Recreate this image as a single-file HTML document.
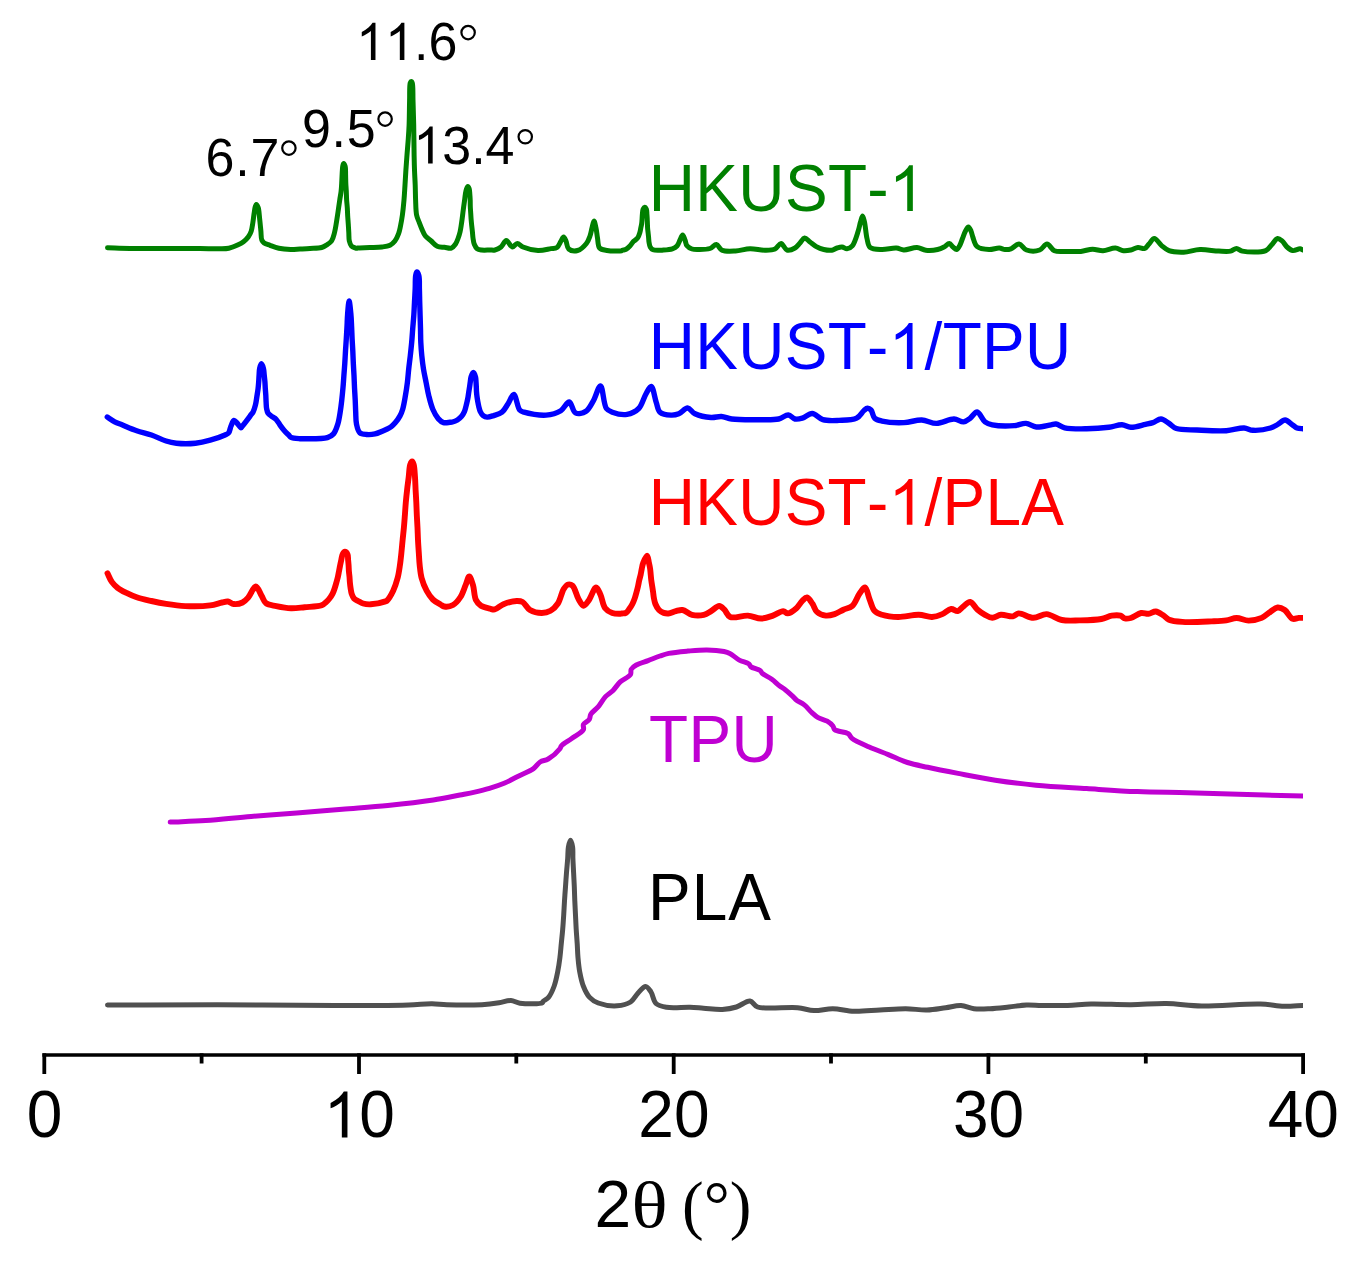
<!DOCTYPE html>
<html><head><meta charset="utf-8"><style>
html,body{margin:0;padding:0;background:#fff;}
body{width:1361px;height:1270px;overflow:hidden;}
svg{display:block;}
text{font-kerning:none;}
.s{font-family:"Liberation Sans",sans-serif;}
.r{font-family:"Liberation Serif",serif;}
</style></head><body>
<svg width="1361" height="1270" viewBox="0 0 1361 1270">
<defs><clipPath id="c"><rect x="0" y="0" width="1302.9" height="1270"/></clipPath></defs>
<rect width="1361" height="1270" fill="#fff"/>
<g clip-path="url(#c)">
<path d="M107.50,1005.10C144.20,1004.97 180.31,1004.62 217.60,1004.70C256.11,1004.78 300.41,1005.63 335.00,1005.60C362.38,1005.57 390.91,1005.40 408.60,1004.90C418.58,1004.62 425.09,1003.73 432.00,1003.80C437.50,1003.86 440.81,1004.61 446.80,1004.80C456.03,1005.10 472.39,1005.25 482.00,1004.70C488.70,1004.32 493.85,1003.58 499.00,1002.80C503.33,1002.14 507.23,1000.32 510.90,1000.50C514.13,1000.66 516.18,1002.69 519.90,1003.20C525.66,1003.99 540.51,1004.19 542.40,1002.80C542.85,1002.47 542.47,1002.06 542.80,1001.60C543.59,1000.52 546.81,999.41 548.50,997.40C550.77,994.70 552.69,990.10 554.20,986.00C555.82,981.61 556.75,976.55 557.70,971.80C558.64,967.11 559.30,962.42 559.90,957.70C560.50,952.98 560.83,948.23 561.30,943.50C561.77,938.77 562.30,934.04 562.70,929.30C563.10,924.57 563.40,919.83 563.70,915.10C564.00,910.37 564.20,905.63 564.50,900.90C564.80,896.17 565.17,891.42 565.50,886.70C565.83,881.99 566.13,877.31 566.50,872.60C566.87,867.87 567.37,862.88 567.70,858.40C567.99,854.39 567.80,850.27 568.40,847.00C568.87,844.44 569.80,840.30 570.50,840.30C571.20,840.30 572.17,844.44 572.60,847.00C573.14,850.27 572.75,854.39 572.90,858.40C573.07,862.87 573.37,867.88 573.60,872.60C573.83,877.31 574.10,881.99 574.30,886.70C574.50,891.42 574.60,896.17 574.80,900.90C575.00,905.63 575.27,910.37 575.50,915.10C575.73,919.83 575.92,924.57 576.20,929.30C576.48,934.03 576.90,938.77 577.20,943.50C577.50,948.23 577.58,952.98 578.00,957.70C578.42,962.41 578.83,967.12 579.70,971.80C580.59,976.55 581.57,981.63 583.30,986.00C584.93,990.12 586.90,994.50 589.60,997.40C592.00,999.98 594.59,1001.63 598.20,1003.00C603.14,1004.87 611.45,1006.17 617.20,1005.80C622.09,1005.48 627.04,1004.31 630.60,1002.00C633.86,999.88 635.49,995.66 638.10,993.00C640.50,990.55 643.36,986.43 645.60,986.50C647.52,986.56 649.25,989.36 650.80,991.60C652.87,994.60 653.21,1000.88 656.00,1003.50C658.59,1005.93 662.22,1006.55 666.50,1007.30C672.70,1008.39 683.25,1007.08 690.00,1007.30C695.12,1007.47 698.63,1007.88 703.50,1008.20C709.25,1008.58 716.50,1009.70 722.30,1009.40C727.35,1009.13 731.83,1008.38 736.40,1007.00C741.06,1005.60 746.24,1000.52 750.00,1001.00C753.04,1001.39 753.74,1005.62 757.60,1007.00C765.45,1009.80 787.22,1006.70 797.60,1007.70C804.30,1008.35 808.33,1010.39 814.00,1010.60C820.04,1010.82 826.35,1008.63 832.80,1008.70C839.66,1008.77 846.57,1011.03 854.00,1011.30C862.19,1011.59 871.28,1010.43 879.90,1010.00C888.51,1009.57 897.52,1008.66 905.70,1008.70C913.11,1008.74 920.05,1010.21 926.90,1010.00C933.36,1009.80 939.76,1008.49 945.70,1007.70C951.07,1006.99 956.14,1005.26 961.00,1005.50C965.51,1005.73 969.33,1008.14 973.90,1008.70C978.93,1009.32 984.43,1008.95 990.00,1008.70C996.03,1008.43 1002.64,1007.63 1008.80,1007.00C1014.77,1006.39 1020.73,1005.25 1026.40,1005.00C1031.67,1004.77 1035.93,1005.32 1041.70,1005.40C1049.20,1005.50 1059.19,1005.65 1067.60,1005.40C1075.60,1005.16 1082.16,1004.19 1091.00,1004.00C1102.55,1003.76 1118.08,1004.81 1131.00,1004.70C1143.14,1004.60 1154.54,1003.30 1166.30,1003.50C1178.07,1003.70 1188.33,1005.66 1201.60,1005.90C1218.71,1006.20 1245.23,1003.50 1260.40,1004.00C1270.01,1004.31 1276.50,1006.12 1283.90,1006.30C1290.51,1006.46 1299.00,1005.49 1302.70,1005.40C1304.25,1005.36 1304.90,1005.40 1306.00,1005.40" fill="none" stroke="#505050" stroke-width="5.0" stroke-linejoin="round" stroke-linecap="round"/>
<path d="M170.20,822.10C182.00,821.57 193.07,821.35 205.60,820.50C219.83,819.54 235.92,817.65 251.10,816.40C266.29,815.15 281.51,814.20 296.70,813.00C311.88,811.80 327.02,810.45 342.20,809.20C357.39,807.95 372.62,807.03 387.80,805.50C402.99,803.97 420.17,802.02 433.30,800.00C443.41,798.44 452.42,796.46 460.00,795.00C465.63,793.92 469.81,793.20 474.70,792.10C479.61,791.00 484.53,789.85 489.40,788.40C494.33,786.93 499.27,785.34 504.10,783.30C509.07,781.20 513.90,778.35 518.80,775.90C523.70,773.45 529.73,771.31 533.50,768.60C536.34,766.56 537.59,763.61 540.10,762.00C542.51,760.45 545.41,760.66 548.20,759.00C551.94,756.76 557.93,751.23 559.90,748.70C560.80,747.54 560.48,746.86 561.40,745.80C563.21,743.72 568.18,741.09 571.70,738.50C575.50,735.71 581.95,732.52 583.40,729.60C584.25,727.88 582.69,726.05 583.40,724.50C584.28,722.58 588.08,721.31 589.30,719.40C590.32,717.81 589.77,715.95 590.80,714.20C592.22,711.79 595.77,709.65 598.10,706.90C600.69,703.85 602.84,699.42 605.50,696.60C607.79,694.18 610.46,692.99 612.80,690.70C615.39,688.16 617.34,684.55 620.20,681.90C623.20,679.12 628.94,677.09 630.50,674.50C631.49,672.85 630.38,670.91 631.20,669.40C632.14,667.68 634.10,666.30 636.30,665.00C639.30,663.22 644.16,662.09 648.10,660.60C652.06,659.10 656.32,657.26 660.00,656.00C663.10,654.94 665.20,654.13 668.70,653.40C673.79,652.34 681.42,651.68 687.80,651.10C694.16,650.52 700.71,649.81 706.90,649.90C712.76,649.99 719.84,650.64 724.00,651.50C726.48,652.02 727.71,652.35 729.80,653.40C732.68,654.85 736.02,658.32 739.30,660.10C742.40,661.77 747.03,662.40 748.90,663.90C749.97,664.76 749.73,665.83 750.80,666.70C752.66,668.21 758.41,669.10 760.30,670.60C761.39,671.47 761.24,672.42 762.30,673.40C764.20,675.17 768.89,677.07 771.80,679.20C774.57,681.22 776.98,683.95 779.40,685.80C781.41,687.34 783.19,688.15 785.20,689.70C787.62,691.57 790.73,694.45 792.80,696.40C794.31,697.82 795.02,698.96 796.60,700.20C798.64,701.81 801.85,702.96 804.30,704.90C806.98,707.02 809.48,710.39 811.90,712.60C813.92,714.45 815.41,716.04 817.70,717.40C820.38,718.99 824.54,719.61 827.20,721.20C829.47,722.56 831.60,724.36 832.90,726.00C833.88,727.24 833.51,728.74 834.80,729.80C837.13,731.73 845.27,731.64 848.20,733.60C850.14,734.90 850.02,736.79 852.00,738.40C855.50,741.25 863.26,744.34 869.20,747.00C875.34,749.75 881.93,752.02 888.30,754.60C894.70,757.19 900.93,760.38 907.50,762.50C914.07,764.62 920.27,765.67 927.70,767.30C936.79,769.29 947.45,771.36 958.10,773.40C969.87,775.66 982.60,778.26 995.30,780.20C1008.51,782.22 1021.60,783.84 1035.90,785.20C1051.84,786.72 1069.70,787.53 1086.60,788.60C1103.50,789.67 1120.39,790.92 1137.30,791.60C1154.19,792.28 1171.11,792.25 1188.00,792.70C1204.88,793.15 1220.72,793.78 1238.60,794.30C1258.75,794.88 1295.18,795.90 1302.90,796.00C1304.59,796.02 1304.97,796.00 1306.00,796.00" fill="none" stroke="#bf00d2" stroke-width="5.0" stroke-linejoin="round" stroke-linecap="round"/>
<path d="M107.50,573.30C108.93,576.17 110.03,579.42 111.80,581.90C113.44,584.20 115.32,586.04 117.60,587.80C120.14,589.76 123.39,591.34 126.50,592.90C129.74,594.52 132.93,596.02 136.70,597.30C141.10,598.79 146.49,599.90 151.40,601.00C156.29,602.10 160.86,603.08 166.10,603.90C172.03,604.83 178.39,605.80 185.20,606.10C192.96,606.44 203.45,606.31 210.20,605.40C214.90,604.76 218.75,603.18 222.00,602.50C224.26,602.03 225.89,601.28 227.80,601.50C229.79,601.73 231.50,603.74 233.70,604.00C236.30,604.30 240.00,603.69 242.50,602.50C244.85,601.38 246.46,599.49 248.40,597.30C250.91,594.47 253.52,586.45 255.80,586.50C257.89,586.54 259.81,592.87 261.60,595.80C263.18,598.40 263.77,601.49 266.00,603.20C268.49,605.11 272.53,605.29 276.30,606.10C280.74,607.05 286.18,608.13 291.00,608.30C295.64,608.46 299.89,607.68 304.70,607.20C310.07,606.67 318.10,606.57 321.70,605.20C323.62,604.47 324.46,603.44 325.70,602.40C326.93,601.37 328.03,600.31 329.10,599.00C330.31,597.52 331.57,595.70 332.50,593.90C333.43,592.10 334.05,590.11 334.70,588.20C335.34,586.31 335.87,584.40 336.40,582.50C336.93,580.60 337.46,578.70 337.90,576.80C338.33,574.93 338.63,573.08 339.00,571.20C339.37,569.31 339.72,567.40 340.10,565.50C340.48,563.60 340.87,561.69 341.30,559.80C341.73,557.92 341.94,555.61 342.70,554.20C343.27,553.14 344.12,551.83 344.90,551.80C345.71,551.77 346.95,553.10 347.50,554.20C348.20,555.59 347.92,557.92 348.10,559.80C348.28,561.69 348.47,563.60 348.60,565.50C348.73,567.40 348.75,569.31 348.90,571.20C349.05,573.08 349.33,574.92 349.50,576.80C349.67,578.69 349.72,580.60 349.90,582.50C350.08,584.40 350.30,586.31 350.60,588.20C350.90,590.11 351.10,592.15 351.70,593.90C352.26,595.53 352.89,597.19 354.00,598.40C355.14,599.64 356.97,600.34 358.50,601.20C360.01,602.04 361.32,602.98 363.10,603.50C365.29,604.14 367.83,604.44 370.80,604.30C374.93,604.11 383.21,602.18 385.50,601.40C386.24,601.15 386.35,601.19 386.90,600.70C388.40,599.34 391.45,594.33 393.20,590.70C395.06,586.84 396.48,582.35 397.60,578.10C398.70,573.92 399.27,569.63 399.90,565.40C400.53,561.20 400.95,557.00 401.40,552.80C401.85,548.60 402.18,544.40 402.60,540.20C403.02,536.00 403.52,531.80 403.90,527.60C404.28,523.40 404.58,519.20 404.90,515.00C405.22,510.80 405.43,506.60 405.80,502.40C406.17,498.20 406.62,494.00 407.10,489.80C407.58,485.60 408.18,481.40 408.70,477.20C409.22,473.00 409.26,467.32 410.20,464.60C410.71,463.14 411.51,461.48 412.10,461.50C412.68,461.52 413.27,463.16 413.70,464.60C414.52,467.34 414.68,473.00 415.00,477.20C415.32,481.40 415.38,485.60 415.60,489.80C415.82,494.00 416.10,498.20 416.30,502.40C416.50,506.60 416.60,510.80 416.80,515.00C417.00,519.20 417.30,523.40 417.50,527.60C417.70,531.80 417.78,536.00 418.00,540.20C418.22,544.40 418.52,548.60 418.80,552.80C419.08,557.00 419.24,561.20 419.70,565.40C420.17,569.63 420.48,573.94 421.60,578.10C422.75,582.38 424.57,586.98 426.60,590.70C428.41,594.02 430.45,597.15 432.90,599.50C435.14,601.66 438.38,603.25 440.50,604.50C441.96,605.36 442.72,606.25 444.30,606.50C446.56,606.86 450.41,606.40 453.00,605.00C455.89,603.45 458.45,600.13 460.50,597.00C462.72,593.61 464.04,588.84 465.60,585.20C466.94,582.08 468.07,576.50 469.30,576.50C470.53,576.50 471.97,581.86 473.00,585.20C474.29,589.40 474.13,596.26 475.90,599.90C477.18,602.52 478.81,604.35 481.00,605.80C483.41,607.39 487.46,608.11 490.00,608.70C491.80,609.12 492.96,609.74 494.70,609.40C497.26,608.90 500.16,605.56 503.50,604.20C507.35,602.63 513.16,601.12 516.70,601.00C519.05,600.92 520.69,600.97 522.60,602.00C525.17,603.39 526.93,608.17 530.00,610.00C533.23,611.93 538.08,612.99 541.70,613.00C544.84,613.01 547.87,612.28 550.50,610.80C553.31,609.22 555.82,606.62 557.90,603.50C560.46,599.65 561.60,592.10 563.80,588.80C565.17,586.74 566.61,584.89 568.20,584.50C569.57,584.16 571.26,584.63 572.60,585.80C574.97,587.88 576.39,595.44 578.50,599.00C580.11,601.72 581.83,605.59 583.60,605.70C585.24,605.80 586.99,602.76 588.70,600.50C591.15,597.26 593.93,587.53 596.10,587.50C597.73,587.47 599.16,591.85 600.50,594.70C602.22,598.36 602.64,604.76 605.00,607.90C606.88,610.41 609.74,612.04 612.30,613.00C614.63,613.87 617.88,613.82 619.60,613.80C620.55,613.79 620.95,613.62 621.80,613.50C622.96,613.34 624.69,613.57 625.90,612.90C627.28,612.14 628.33,610.26 629.40,608.80C630.50,607.30 631.52,605.72 632.40,604.00C633.33,602.17 634.11,600.09 634.80,598.10C635.48,596.15 635.97,594.17 636.50,592.20C637.03,590.24 637.55,588.27 638.00,586.30C638.45,584.34 638.75,582.36 639.20,580.40C639.65,578.43 640.27,576.47 640.70,574.50C641.13,572.54 641.37,570.56 641.80,568.60C642.23,566.63 642.50,564.69 643.30,562.70C644.21,560.43 646.26,555.67 647.20,555.80C648.09,555.92 648.40,560.49 648.90,562.70C649.36,564.74 649.80,566.63 650.10,568.60C650.40,570.56 650.50,572.53 650.70,574.50C650.90,576.47 651.05,578.44 651.30,580.40C651.55,582.37 651.90,584.33 652.20,586.30C652.50,588.27 652.82,590.23 653.10,592.20C653.38,594.17 653.52,596.14 653.90,598.10C654.28,600.08 654.60,602.08 655.40,604.00C656.26,606.06 657.50,608.48 659.00,610.00C660.33,611.35 662.07,612.32 663.70,612.90C665.21,613.43 666.67,613.66 668.40,613.50C670.63,613.30 673.46,611.69 675.90,611.10C678.15,610.56 680.16,609.64 682.50,610.00C685.45,610.45 688.56,613.98 692.00,614.80C695.63,615.66 700.42,615.61 703.80,614.80C706.62,614.13 708.64,612.50 711.10,611.10C713.76,609.59 716.82,605.93 719.20,606.00C721.15,606.05 722.73,608.11 724.40,609.70C726.42,611.62 727.28,615.73 730.20,617.00C734.23,618.75 742.46,615.23 747.90,615.60C752.65,615.93 756.83,618.55 761.10,618.50C765.15,618.45 769.15,616.87 772.90,615.60C776.50,614.38 780.50,611.01 783.20,611.10C784.99,611.16 785.90,613.44 787.60,613.40C790.04,613.34 793.92,610.34 796.40,608.20C798.78,606.14 800.32,602.78 802.30,600.90C803.86,599.42 805.45,597.32 807.00,597.50C808.86,597.71 810.87,601.47 812.50,603.80C814.22,606.25 814.81,609.94 817.00,611.90C819.22,613.89 822.82,615.26 825.80,615.60C828.69,615.93 831.73,615.04 834.60,614.10C837.61,613.12 840.44,611.06 843.40,609.70C846.31,608.36 849.68,608.19 852.20,606.00C855.30,603.29 857.16,596.82 859.60,593.50C861.42,591.03 863.46,587.22 865.00,587.50C866.94,587.86 867.98,595.47 869.60,599.40C871.22,603.33 872.26,608.51 874.70,611.10C876.66,613.17 878.99,613.86 882.00,614.80C886.25,616.12 892.47,616.92 898.20,617.00C904.65,617.09 912.71,614.62 918.80,614.80C923.70,614.94 927.90,617.22 932.00,617.00C935.67,616.80 939.08,615.46 942.30,614.10C945.44,612.77 948.31,609.30 951.10,609.00C953.40,608.75 955.72,611.48 957.70,611.10C959.65,610.72 960.98,608.22 962.90,606.80C965.09,605.18 967.86,601.74 970.20,602.00C972.78,602.29 975.02,607.51 977.60,609.70C979.97,611.71 982.47,613.43 985.00,614.80C987.37,616.09 989.75,617.73 992.30,617.80C995.06,617.88 997.84,615.13 1001.00,614.80C1004.59,614.43 1009.61,616.83 1012.80,616.30C1015.17,615.90 1016.24,613.60 1018.70,613.40C1022.45,613.09 1028.63,617.76 1033.40,617.80C1037.91,617.84 1042.08,613.88 1046.60,614.10C1051.53,614.34 1056.45,618.93 1061.80,620.00C1067.36,621.11 1073.21,620.53 1079.40,620.40C1086.33,620.26 1095.50,620.12 1101.40,619.00C1105.53,618.22 1108.36,616.22 1111.70,615.70C1114.71,615.23 1118.13,615.02 1120.50,615.70C1122.34,616.23 1123.33,618.10 1125.00,618.50C1126.75,618.92 1128.65,618.59 1130.80,618.00C1133.81,617.17 1137.87,613.56 1141.10,613.00C1143.70,612.55 1146.07,614.04 1148.50,613.80C1150.97,613.56 1153.40,611.30 1155.80,611.50C1158.30,611.71 1160.94,613.88 1163.20,615.30C1165.31,616.63 1166.51,618.63 1169.00,619.70C1172.39,621.16 1176.98,621.51 1182.30,621.90C1190.14,622.48 1203.50,621.74 1211.60,621.40C1217.34,621.16 1221.86,621.06 1226.30,620.40C1230.06,619.84 1233.04,618.02 1236.60,618.00C1240.42,617.97 1244.43,620.57 1248.50,620.60C1252.78,620.63 1257.89,619.55 1261.70,617.90C1265.11,616.43 1267.69,613.52 1270.50,611.70C1272.96,610.11 1275.18,607.74 1277.60,607.50C1279.91,607.27 1282.45,608.50 1284.70,610.00C1287.52,611.88 1289.85,617.80 1292.60,618.80C1294.60,619.53 1297.02,618.03 1298.80,617.90C1300.13,617.80 1301.12,617.90 1302.30,617.90C1303.52,617.90 1304.77,617.90 1306.00,617.90" fill="none" stroke="#ff0000" stroke-width="5.9" stroke-linejoin="round" stroke-linecap="round"/>
<path d="M107.30,417.00C109.77,418.60 112.18,420.48 114.70,421.80C117.08,423.05 119.14,423.64 122.00,424.80C126.05,426.44 131.76,428.99 136.70,430.70C141.56,432.38 146.54,433.30 151.40,435.00C156.34,436.73 161.58,439.61 166.10,441.00C169.78,442.14 172.42,442.78 176.40,443.20C181.77,443.77 189.58,443.80 195.50,443.20C200.75,442.67 205.34,441.54 210.20,440.20C215.17,438.83 221.79,436.49 225.00,435.00C226.66,434.23 227.66,434.05 228.60,432.90C229.85,431.38 230.05,428.13 231.00,426.00C231.88,424.02 232.85,420.72 234.00,420.50C234.91,420.33 235.97,421.98 237.00,423.00C238.29,424.28 240.11,427.69 241.00,427.70C241.44,427.71 241.56,427.12 242.00,426.60C243.00,425.41 245.21,422.56 246.70,420.60C248.10,418.76 249.54,416.78 250.70,415.20C251.60,413.97 252.39,413.26 253.10,411.90C254.03,410.11 254.77,407.68 255.40,405.20C256.16,402.23 256.62,398.20 257.10,395.20C257.49,392.75 257.83,390.74 258.10,388.50C258.37,386.27 258.53,384.03 258.70,381.80C258.87,379.57 258.93,377.33 259.10,375.10C259.27,372.87 259.25,370.40 259.70,368.40C260.08,366.69 260.79,363.82 261.40,363.80C262.02,363.78 262.94,366.69 263.40,368.40C263.94,370.39 263.95,372.87 264.20,375.10C264.45,377.33 264.72,379.56 264.90,381.80C265.08,384.03 265.15,386.27 265.30,388.50C265.45,390.73 265.67,392.97 265.80,395.20C265.93,397.43 265.97,399.68 266.10,401.90C266.23,404.11 266.21,406.51 266.60,408.50C266.94,410.22 267.21,411.86 268.10,413.20C269.02,414.58 270.74,415.57 272.10,416.60C273.41,417.59 274.87,418.07 276.10,419.30C277.62,420.81 278.82,423.38 280.20,425.30C281.52,427.14 282.75,428.93 284.20,430.60C285.65,432.27 287.64,434.07 288.90,435.30C289.73,436.11 289.94,436.78 291.00,437.30C292.88,438.22 297.43,438.48 300.00,438.70C301.90,438.87 302.74,438.84 305.00,438.80C309.79,438.72 322.40,439.14 327.40,437.60C330.22,436.73 331.85,435.78 333.50,433.90C335.52,431.60 336.70,427.60 337.80,424.10C338.98,420.34 339.53,416.05 340.20,412.00C340.87,407.95 341.33,403.87 341.80,399.80C342.27,395.74 342.65,391.67 343.00,387.60C343.35,383.54 343.60,379.47 343.90,375.40C344.20,371.33 344.53,367.27 344.80,363.20C345.07,359.13 345.25,355.07 345.50,351.00C345.75,346.93 346.05,342.87 346.30,338.80C346.55,334.73 346.78,330.67 347.00,326.60C347.22,322.53 347.27,318.56 347.60,314.40C347.95,310.03 348.55,301.01 349.10,301.00C349.65,300.99 350.48,310.03 350.90,314.40C351.30,318.55 351.40,322.53 351.60,326.60C351.80,330.67 351.90,334.73 352.10,338.80C352.30,342.87 352.60,346.93 352.80,351.00C353.00,355.07 353.10,359.13 353.30,363.20C353.50,367.27 353.80,371.33 354.00,375.40C354.20,379.47 354.30,383.53 354.50,387.60C354.70,391.67 355.00,395.73 355.20,399.80C355.40,403.87 355.48,407.94 355.70,412.00C355.92,416.04 355.70,420.46 356.50,424.10C357.20,427.27 357.91,431.00 359.80,432.70C361.44,434.18 364.11,434.27 366.50,434.50C369.15,434.75 371.97,434.60 375.00,433.90C378.76,433.03 384.25,430.44 387.20,429.00C388.97,428.13 389.99,427.60 391.30,426.60C392.74,425.50 394.07,424.18 395.40,422.60C396.98,420.72 398.76,418.20 400.00,415.90C401.16,413.73 401.90,411.86 402.70,409.20C403.80,405.54 404.62,400.28 405.40,395.80C406.18,391.34 406.85,386.87 407.40,382.40C407.95,377.97 408.22,373.54 408.70,369.10C409.18,364.64 409.80,360.17 410.30,355.70C410.80,351.24 411.30,346.77 411.70,342.30C412.10,337.84 412.35,333.37 412.70,328.90C413.05,324.43 413.50,319.97 413.80,315.50C414.10,311.04 414.27,306.56 414.50,302.10C414.73,297.66 415.00,293.24 415.20,288.80C415.40,284.34 415.17,278.37 415.70,275.40C415.97,273.87 416.30,272.05 416.80,272.00C417.32,271.94 418.33,273.81 418.80,275.40C419.67,278.33 419.25,284.34 419.40,288.80C419.55,293.24 419.58,297.66 419.70,302.10C419.82,306.56 419.97,311.03 420.10,315.50C420.23,319.97 420.38,324.43 420.50,328.90C420.62,333.37 420.58,337.84 420.80,342.30C421.02,346.77 421.35,351.24 421.80,355.70C422.25,360.17 422.78,364.65 423.50,369.10C424.22,373.55 425.22,377.96 426.10,382.40C426.99,386.86 427.69,391.36 428.80,395.80C429.92,400.29 431.09,405.22 432.80,409.20C434.31,412.71 436.14,416.27 438.20,418.60C439.81,420.42 441.52,421.99 443.50,422.60C445.46,423.21 448.34,422.44 450.00,422.30C451.03,422.21 451.55,422.25 452.50,422.00C453.88,421.64 455.91,420.90 457.40,420.00C458.88,419.10 460.25,417.95 461.40,416.60C462.61,415.18 463.64,413.32 464.40,411.60C465.12,409.98 465.45,408.26 465.90,406.60C466.35,404.96 466.73,403.35 467.10,401.70C467.47,400.05 467.82,398.36 468.10,396.70C468.38,395.06 468.55,393.44 468.80,391.80C469.05,390.14 469.35,388.47 469.60,386.80C469.85,385.13 470.05,383.46 470.30,381.80C470.55,380.16 470.60,378.45 471.10,376.90C471.60,375.35 472.57,372.50 473.30,372.50C474.03,372.50 475.05,375.35 475.50,376.90C475.95,378.45 475.87,380.16 476.00,381.80C476.13,383.46 476.22,385.13 476.30,386.80C476.38,388.47 476.38,390.14 476.50,391.80C476.62,393.44 476.79,395.06 477.00,396.70C477.22,398.36 477.50,400.04 477.80,401.70C478.10,403.34 478.39,404.97 478.80,406.60C479.22,408.27 479.55,410.08 480.30,411.60C481.03,413.08 481.99,414.68 483.20,415.60C484.32,416.46 485.69,417.00 487.20,417.10C489.09,417.22 491.43,416.32 493.70,415.60C496.33,414.76 499.68,414.03 502.00,412.20C504.47,410.25 505.98,406.87 507.90,404.00C509.92,400.98 511.99,394.33 513.80,394.50C516.00,394.71 517.29,407.31 519.70,410.00C521.00,411.45 521.93,411.56 524.00,412.20C528.44,413.58 539.53,415.63 546.10,415.10C551.55,414.66 556.82,413.12 560.80,410.70C564.33,408.55 566.77,401.70 569.20,402.00C571.68,402.30 572.52,411.46 575.50,412.90C578.21,414.21 582.94,413.14 585.80,411.40C588.96,409.48 590.90,404.97 593.20,401.10C595.85,396.65 598.42,385.80 600.50,386.00C602.95,386.24 603.38,404.39 606.40,408.50C608.05,410.75 609.77,411.26 612.30,412.20C616.00,413.57 622.48,415.13 627.00,414.40C631.24,413.72 635.61,411.60 638.70,408.50C642.15,405.03 643.62,397.78 646.00,393.80C647.76,390.86 649.68,386.26 651.20,386.50C653.29,386.83 654.67,397.94 656.30,402.60C657.57,406.23 657.67,410.11 660.00,412.20C662.45,414.40 667.63,414.94 671.00,415.10C673.81,415.23 676.23,414.81 678.80,413.80C681.77,412.63 684.83,407.89 687.60,408.00C690.21,408.11 691.85,412.30 695.00,413.80C699.17,415.79 706.31,417.19 711.10,417.50C714.89,417.75 717.99,416.26 721.40,416.50C724.85,416.74 727.43,418.43 731.70,419.00C738.45,419.90 749.93,419.73 758.20,419.70C765.47,419.67 773.23,420.19 778.70,419.00C782.59,418.15 785.43,414.79 788.30,415.00C790.78,415.18 792.63,418.48 795.00,419.00C797.30,419.50 799.75,418.92 802.30,418.20C805.42,417.32 808.88,413.36 812.20,413.50C815.71,413.65 818.72,418.50 822.80,419.70C827.48,421.08 833.50,420.62 839.00,420.40C844.75,420.17 852.25,420.38 856.60,418.20C859.98,416.51 861.90,412.21 864.00,410.50C865.31,409.44 866.32,408.36 867.50,408.30C868.65,408.24 869.97,408.94 871.00,410.00C872.56,411.60 872.76,416.34 874.70,418.20C876.51,419.93 878.84,420.38 882.00,421.10C887.29,422.30 897.08,422.87 904.00,422.60C910.23,422.36 916.09,419.77 921.70,420.00C926.85,420.21 931.29,423.45 936.40,423.40C942.01,423.35 949.03,418.88 954.00,419.00C957.70,419.09 960.76,422.21 963.60,421.90C966.07,421.63 968.06,419.73 970.20,418.20C972.57,416.50 974.82,411.81 977.10,412.00C979.76,412.22 982.11,419.76 985.00,421.90C987.27,423.59 989.14,424.14 992.30,424.80C997.59,425.91 1008.14,426.06 1014.30,425.60C1018.83,425.26 1022.26,423.12 1026.00,423.40C1029.58,423.67 1032.51,426.64 1036.30,427.00C1040.72,427.42 1047.41,425.36 1051.00,424.80C1053.07,424.48 1054.07,423.77 1055.90,424.00C1058.45,424.31 1061.01,426.95 1064.70,427.80C1070.29,429.09 1079.36,428.88 1086.70,428.80C1094.06,428.72 1102.40,428.12 1108.80,427.30C1113.79,426.66 1118.06,424.62 1122.00,424.80C1125.25,424.95 1127.47,427.16 1130.80,427.30C1135.06,427.47 1141.44,425.29 1145.50,424.40C1148.39,423.76 1150.42,423.45 1152.90,422.60C1155.58,421.69 1158.34,418.89 1161.00,419.00C1163.70,419.11 1166.42,421.81 1169.00,423.40C1171.56,424.98 1173.11,427.34 1176.40,428.50C1181.38,430.25 1189.53,429.64 1197.00,430.00C1205.90,430.43 1217.76,431.24 1226.30,430.70C1232.99,430.28 1239.22,427.74 1244.10,428.00C1247.57,428.18 1249.44,430.08 1252.90,430.30C1257.74,430.60 1266.03,429.35 1270.50,428.00C1273.49,427.10 1275.23,425.79 1277.60,424.50C1280.09,423.14 1282.62,419.94 1285.10,420.00C1287.62,420.06 1290.43,423.54 1292.60,425.00C1294.26,426.12 1295.36,427.38 1297.00,428.00C1298.71,428.64 1301.06,428.60 1302.70,428.70C1303.95,428.78 1304.90,428.70 1306.00,428.70" fill="none" stroke="#0000ff" stroke-width="5.4" stroke-linejoin="round" stroke-linecap="round"/>
<path d="M107.50,247.80C115.00,248.00 121.43,248.29 130.00,248.40C141.43,248.55 157.62,248.38 170.00,248.40C180.72,248.42 191.01,248.42 200.00,248.50C207.34,248.57 214.69,248.94 220.00,248.80C223.53,248.71 225.91,248.81 228.80,248.20C231.78,247.57 235.00,246.19 237.60,245.00C239.81,243.99 241.73,243.04 243.50,241.70C245.26,240.37 246.91,238.76 248.20,237.00C249.48,235.26 250.44,233.40 251.20,231.20C252.09,228.63 252.42,225.35 252.90,222.40C253.38,219.45 253.67,216.29 254.10,213.50C254.48,211.02 254.78,208.10 255.30,206.50C255.59,205.60 255.89,204.52 256.30,204.50C256.82,204.48 257.69,206.16 258.20,207.60C259.12,210.20 259.25,215.46 259.70,219.40C260.15,223.33 260.53,227.55 260.90,231.20C261.22,234.35 260.96,237.94 261.80,240.00C262.34,241.33 263.02,242.09 264.10,242.90C265.52,243.97 267.82,244.50 270.00,245.30C272.63,246.27 275.61,247.52 278.80,248.20C282.41,248.97 286.89,249.29 290.60,249.40C293.91,249.50 296.82,249.15 300.00,249.00C303.28,248.85 306.54,248.73 310.00,248.50C313.74,248.25 318.65,248.35 321.65,247.50C323.72,246.91 325.00,246.04 326.60,245.00C328.33,243.88 330.32,242.73 331.60,240.90C333.09,238.76 333.75,235.39 334.50,232.60C335.24,229.88 335.62,227.15 336.10,224.40C336.58,221.65 336.98,218.86 337.40,216.10C337.82,213.36 338.20,210.64 338.60,207.90C339.00,205.14 339.38,202.37 339.80,199.60C340.22,196.83 340.78,194.06 341.10,191.30C341.41,188.56 341.53,185.84 341.70,183.10C341.87,180.34 341.93,177.57 342.10,174.80C342.27,172.03 342.32,168.56 342.70,166.50C342.93,165.23 343.20,163.54 343.60,163.50C344.02,163.46 344.84,165.20 345.20,166.50C345.76,168.53 345.50,172.03 345.60,174.80C345.70,177.57 345.68,180.34 345.80,183.10C345.92,185.84 346.17,188.56 346.30,191.30C346.43,194.06 346.43,196.84 346.60,199.60C346.77,202.37 347.12,205.14 347.30,207.90C347.48,210.64 347.53,213.36 347.70,216.10C347.87,218.86 348.12,221.64 348.30,224.40C348.48,227.14 348.63,229.86 348.80,232.60C348.97,235.36 348.75,238.52 349.30,240.90C349.75,242.82 350.17,244.68 351.40,245.90C352.72,247.21 356.26,248.33 357.20,248.30C357.51,248.29 357.46,248.09 357.80,248.00C359.25,247.63 365.78,247.77 369.80,247.60C373.85,247.43 378.38,247.49 382.00,247.00C384.97,246.60 387.77,246.32 390.00,245.20C391.98,244.21 393.52,242.77 394.90,241.00C396.46,239.00 397.66,236.14 398.60,233.60C399.51,231.13 399.91,228.78 400.50,226.00C401.20,222.68 401.85,218.96 402.40,215.00C403.04,210.40 403.57,205.00 404.00,200.00C404.43,195.00 404.68,190.00 405.00,185.00C405.32,180.00 405.57,175.00 405.90,170.00C406.23,165.00 406.62,160.00 407.00,155.00C407.38,150.00 407.85,145.00 408.20,140.00C408.55,135.00 408.87,130.64 409.10,125.00C409.39,117.73 409.39,107.53 409.60,100.00C409.77,93.79 409.38,85.55 410.20,83.00C410.47,82.17 410.85,81.51 411.20,81.50C411.55,81.49 412.01,82.16 412.30,83.00C413.19,85.54 412.79,93.79 413.00,100.00C413.26,107.53 413.52,116.29 413.70,125.00C413.90,134.54 413.93,146.72 414.10,155.00C414.22,160.86 414.32,165.00 414.50,170.00C414.68,175.00 415.02,180.00 415.20,185.00C415.38,190.00 415.37,195.00 415.60,200.00C415.83,205.00 415.76,210.92 416.60,215.00C417.20,217.95 418.27,219.93 419.20,222.40C420.14,224.90 421.15,227.57 422.20,229.90C423.15,232.01 423.81,234.02 425.20,235.80C426.73,237.75 429.20,239.25 431.20,241.00C433.20,242.75 434.93,245.26 437.20,246.30C439.38,247.30 442.11,247.00 444.50,247.30C446.81,247.59 449.43,248.71 451.30,248.10C452.99,247.55 454.28,245.86 455.40,244.30C456.64,242.56 457.41,240.13 458.20,238.00C458.97,235.92 459.60,233.82 460.10,231.70C460.59,229.61 460.87,227.50 461.20,225.40C461.53,223.30 461.82,221.20 462.10,219.10C462.38,217.00 462.63,214.90 462.90,212.80C463.17,210.70 463.42,208.60 463.70,206.50C463.98,204.40 464.32,202.30 464.60,200.20C464.88,198.10 465.06,195.87 465.40,193.90C465.71,192.13 466.00,190.24 466.50,188.90C466.86,187.92 467.35,186.51 467.80,186.50C468.25,186.49 468.87,187.91 469.20,188.90C469.65,190.23 469.64,192.13 469.80,193.90C469.98,195.88 470.12,198.10 470.20,200.20C470.28,202.30 470.22,204.40 470.30,206.50C470.38,208.60 470.57,210.70 470.70,212.80C470.83,214.90 470.93,217.00 471.10,219.10C471.27,221.20 471.48,223.30 471.70,225.40C471.92,227.50 472.18,229.60 472.40,231.70C472.62,233.80 472.69,235.91 473.00,238.00C473.32,240.11 473.55,242.45 474.30,244.30C474.98,245.97 475.84,247.75 477.10,248.70C478.28,249.59 479.77,249.75 481.50,250.00C483.85,250.34 487.54,250.00 490.00,250.00C491.89,250.00 493.31,250.40 495.00,250.00C496.96,249.54 499.20,248.44 501.00,247.00C503.01,245.39 504.46,240.55 506.30,240.50C508.19,240.45 510.20,246.77 512.20,247.00C513.88,247.20 515.54,243.54 517.30,243.50C519.13,243.45 520.55,245.99 523.00,247.00C526.72,248.53 533.16,250.30 538.00,250.50C542.47,250.69 547.50,249.18 551.00,248.60C553.39,248.21 555.38,248.61 557.00,247.50C558.81,246.26 559.80,242.90 561.00,241.00C561.95,239.50 562.76,236.98 563.60,237.00C564.43,237.01 565.26,239.39 566.00,241.00C567.00,243.17 566.83,247.41 568.70,249.00C570.63,250.65 574.79,251.22 577.60,250.50C580.73,249.69 584.29,246.14 586.40,243.50C588.21,241.23 589.07,238.59 590.00,236.00C590.93,233.42 591.31,230.57 592.00,228.00C592.65,225.58 593.33,221.00 594.00,221.00C594.67,221.00 595.44,225.44 596.00,228.00C596.65,231.02 596.90,234.68 597.50,238.00C598.10,241.34 597.77,245.94 599.60,248.00C601.20,249.80 604.07,249.99 607.00,250.50C611.00,251.20 619.78,251.30 621.60,250.80C622.06,250.67 622.02,250.47 622.40,250.30C623.17,249.96 624.93,249.93 626.10,249.30C627.44,248.58 628.77,247.20 629.90,246.00C631.00,244.83 631.78,243.26 632.80,242.20C633.69,241.28 634.73,240.70 635.60,239.90C636.43,239.13 637.25,238.51 637.90,237.50C638.71,236.25 639.31,234.39 639.80,232.80C640.27,231.25 640.48,229.68 640.80,228.10C641.12,226.51 641.48,224.90 641.70,223.30C641.91,221.73 641.98,220.17 642.10,218.60C642.22,217.03 642.23,215.46 642.40,213.90C642.57,212.33 642.59,210.37 643.10,209.20C643.46,208.36 644.06,207.32 644.60,207.30C645.16,207.27 646.00,208.34 646.40,209.20C646.93,210.36 646.77,212.33 646.90,213.90C647.03,215.47 647.12,217.03 647.20,218.60C647.28,220.17 647.33,221.73 647.40,223.30C647.47,224.89 647.48,226.51 647.60,228.10C647.72,229.68 647.93,231.23 648.10,232.80C648.27,234.37 648.45,235.93 648.60,237.50C648.75,239.07 648.74,240.64 649.00,242.20C649.27,243.78 649.46,245.60 650.20,246.90C650.88,248.09 651.78,249.20 653.10,249.80C654.81,250.58 658.39,250.28 660.00,250.30C660.87,250.31 661.08,250.29 662.00,250.20C664.10,250.00 669.60,249.74 672.30,248.80C674.26,248.12 675.75,247.35 677.00,246.00C678.39,244.51 679.03,241.91 680.00,240.00C680.89,238.25 681.76,234.99 682.60,235.00C683.43,235.01 684.28,238.25 685.00,240.00C685.76,241.84 685.82,244.29 687.00,245.80C688.17,247.28 690.12,248.37 692.00,249.00C694.02,249.67 696.25,249.52 698.80,249.50C702.07,249.47 706.89,249.54 710.00,248.50C712.55,247.64 714.42,244.27 716.40,244.50C718.43,244.74 719.44,249.04 722.00,250.20C725.33,251.71 730.93,251.21 735.50,251.00C740.26,250.78 745.12,248.94 750.00,248.80C754.95,248.66 760.51,250.26 765.00,250.20C768.67,250.15 772.25,250.26 775.00,249.00C777.47,247.86 779.04,243.42 781.00,243.50C783.04,243.59 784.61,249.29 787.00,250.00C789.31,250.69 792.78,249.26 795.00,248.00C797.05,246.84 798.39,244.68 800.00,243.00C801.58,241.35 802.93,238.16 804.60,238.00C806.26,237.84 808.13,240.62 810.00,242.00C812.02,243.48 814.03,245.35 816.30,246.60C818.59,247.86 821.13,248.90 823.70,249.50C826.30,250.11 829.44,250.57 831.80,250.20C833.77,249.89 835.26,248.54 837.00,248.00C838.66,247.49 840.35,246.88 842.00,247.00C843.68,247.12 845.34,248.94 847.00,248.80C848.78,248.65 850.74,247.58 852.30,245.80C854.82,242.92 856.78,235.36 858.20,231.00C859.28,227.67 859.69,224.68 860.50,222.00C861.17,219.78 861.93,215.99 862.60,216.00C863.26,216.01 863.91,219.48 864.50,222.00C865.46,226.11 865.88,233.90 867.00,238.50C867.84,241.93 867.85,245.44 870.00,247.30C872.43,249.41 877.56,249.33 881.70,249.50C886.31,249.69 892.36,247.67 896.40,248.00C899.31,248.24 900.96,249.89 903.80,250.00C907.55,250.14 913.07,247.28 917.00,247.50C920.25,247.68 922.61,249.82 925.80,250.20C929.41,250.63 934.31,250.22 937.60,249.50C940.11,248.95 942.02,248.03 944.00,247.00C945.91,246.01 947.74,243.36 949.30,243.50C950.70,243.62 951.72,245.98 953.00,247.00C954.20,247.96 955.58,249.69 956.70,249.50C957.95,249.28 959.07,246.71 960.00,245.00C961.04,243.09 961.62,240.74 962.50,238.50C963.45,236.09 964.37,233.05 965.50,231.00C966.39,229.39 967.48,226.98 968.40,227.00C969.31,227.02 970.29,229.47 971.00,231.00C971.81,232.75 971.97,234.80 972.80,237.00C973.88,239.86 974.67,244.51 977.20,246.60C979.91,248.84 985.18,249.32 989.00,249.50C992.53,249.67 996.39,247.84 999.30,248.00C1001.49,248.12 1003.06,249.36 1005.00,249.50C1006.96,249.64 1008.93,249.50 1011.00,248.80C1013.59,247.93 1016.52,243.81 1019.10,244.00C1021.69,244.19 1023.45,248.92 1026.50,250.00C1030.09,251.27 1036.13,251.28 1039.70,250.00C1042.72,248.92 1044.58,243.94 1047.00,244.00C1049.48,244.06 1051.40,249.44 1054.40,250.70C1057.64,252.06 1061.90,251.28 1066.00,251.40C1070.63,251.54 1076.16,251.83 1080.80,251.40C1084.97,251.01 1088.78,249.28 1092.60,249.20C1096.17,249.13 1099.39,250.83 1103.00,250.70C1106.96,250.56 1111.74,247.80 1115.40,248.00C1118.38,248.17 1120.75,250.39 1123.40,250.70C1125.88,250.99 1128.38,250.53 1130.80,250.00C1133.25,249.47 1135.62,247.72 1138.00,247.50C1140.25,247.29 1142.84,249.14 1144.70,248.50C1146.48,247.89 1147.49,245.57 1149.00,244.00C1150.67,242.26 1152.38,238.53 1154.30,238.50C1156.52,238.46 1159.07,243.52 1161.60,245.60C1163.98,247.55 1165.94,249.57 1169.00,250.70C1172.92,252.14 1178.68,252.34 1183.70,252.20C1189.00,252.05 1194.36,249.82 1200.00,249.60C1206.03,249.36 1213.26,250.88 1218.80,251.10C1223.19,251.27 1227.40,251.77 1230.60,251.10C1232.97,250.60 1234.54,248.49 1236.50,248.50C1238.44,248.51 1239.63,250.56 1242.30,251.10C1247.43,252.14 1260.81,252.73 1265.80,250.60C1268.77,249.33 1269.75,246.70 1271.70,244.70C1273.68,242.67 1275.63,238.79 1277.60,238.50C1279.17,238.27 1280.84,239.96 1282.30,241.20C1284.01,242.66 1285.19,245.42 1287.00,247.00C1288.74,248.52 1290.77,250.28 1292.90,250.60C1295.09,250.93 1298.19,248.66 1300.00,248.80C1301.17,248.89 1301.81,249.80 1302.80,250.00C1303.81,250.21 1304.93,250.00 1306.00,250.00" fill="none" stroke="#008000" stroke-width="5.0" stroke-linejoin="round" stroke-linecap="round"/>
</g>
<line x1="42.4" y1="1055" x2="1305" y2="1055" stroke="#000" stroke-width="3.4"/>
<line x1="44.3" y1="1053.3" x2="44.3" y2="1074" stroke="#000" stroke-width="3.8"/>
<line x1="201.6" y1="1053.3" x2="201.6" y2="1063.5" stroke="#000" stroke-width="3.8"/>
<line x1="359.0" y1="1053.3" x2="359.0" y2="1074" stroke="#000" stroke-width="3.8"/>
<line x1="516.3" y1="1053.3" x2="516.3" y2="1063.5" stroke="#000" stroke-width="3.8"/>
<line x1="673.7" y1="1053.3" x2="673.7" y2="1074" stroke="#000" stroke-width="3.8"/>
<line x1="831.0" y1="1053.3" x2="831.0" y2="1063.5" stroke="#000" stroke-width="3.8"/>
<line x1="988.4" y1="1053.3" x2="988.4" y2="1074" stroke="#000" stroke-width="3.8"/>
<line x1="1145.8" y1="1053.3" x2="1145.8" y2="1063.5" stroke="#000" stroke-width="3.8"/>
<line x1="1303.1" y1="1053.3" x2="1303.1" y2="1074" stroke="#000" stroke-width="3.8"/>
<text transform="translate(26.70,1137.40) scale(1,1.03)" class="s" font-size="64" fill="#000">0</text>
<path transform="translate(323.61,1137.40) scale(0.031250,-0.031250)" d="M763 0H583V1147Q518 1085 412.5 1023Q307 961 223 930V1104Q374 1175 487 1276Q600 1377 647 1466H763Z" fill="#000"/>
<text transform="translate(359.20,1137.40) scale(1,1.03)" class="s" font-size="64" fill="#000">0</text>
<text transform="translate(638.31,1137.40) scale(1,1.03)" class="s" font-size="64" fill="#000">20</text>
<text transform="translate(953.01,1137.40) scale(1,1.03)" class="s" font-size="64" fill="#000">30</text>
<text transform="translate(1267.71,1137.40) scale(1,1.03)" class="s" font-size="64" fill="#000">40</text>
<text transform="translate(648.80,211.00) scale(1,1.045)" class="s" font-size="64" fill="#008000" letter-spacing="0.33">HKUST-</text>
<path transform="translate(889.00,211.00) scale(0.031250,-0.031250)" d="M763 0H583V1147Q518 1085 412.5 1023Q307 961 223 930V1104Q374 1175 487 1276Q600 1377 647 1466H763Z" fill="#008000"/>
<text transform="translate(648.80,368.90) scale(1,1.045)" class="s" font-size="64" fill="#0000ff" letter-spacing="0.28">HKUST-</text>
<path transform="translate(888.70,368.90) scale(0.031250,-0.031250)" d="M763 0H583V1147Q518 1085 412.5 1023Q307 961 223 930V1104Q374 1175 487 1276Q600 1377 647 1466H763Z" fill="#0000ff"/>
<text transform="translate(924.57,368.90) scale(1,1.045)" class="s" font-size="64" fill="#0000ff" letter-spacing="0.28">/TPU</text>
<text transform="translate(648.80,524.80) scale(1,1.045)" class="s" font-size="64" fill="#ff0000" letter-spacing="0.26">HKUST-</text>
<path transform="translate(888.58,524.80) scale(0.031250,-0.031250)" d="M763 0H583V1147Q518 1085 412.5 1023Q307 961 223 930V1104Q374 1175 487 1276Q600 1377 647 1466H763Z" fill="#ff0000"/>
<text transform="translate(924.43,524.80) scale(1,1.045)" class="s" font-size="64" fill="#ff0000" letter-spacing="0.26">/PLA</text>
<text transform="translate(649.00,762.30) scale(1,1.045)" class="s" font-size="64" fill="#bf00d2" letter-spacing="0.4">TPU</text>
<text transform="translate(648.00,920.00) scale(1,1.045)" class="s" font-size="64" fill="#000" letter-spacing="1.0">PLA</text>
<text transform="translate(205.50,175.60) scale(1,1.045)" class="s" font-size="52" fill="#000" letter-spacing="0.8">6.7</text>
<text transform="translate(301.90,146.60) scale(1,1.045)" class="s" font-size="52" fill="#000" letter-spacing="0.8">9.5</text>
<path transform="translate(356.10,60.00) scale(0.025391,-0.025391)" d="M763 0H583V1147Q518 1085 412.5 1023Q307 961 223 930V1104Q374 1175 487 1276Q600 1377 647 1466H763Z" fill="#000"/>
<path transform="translate(385.02,60.00) scale(0.025391,-0.025391)" d="M763 0H583V1147Q518 1085 412.5 1023Q307 961 223 930V1104Q374 1175 487 1276Q600 1377 647 1466H763Z" fill="#000"/>
<text transform="translate(413.94,60.00) scale(1,1.045)" class="s" font-size="52" fill="#000">.6</text>
<path transform="translate(413.30,163.60) scale(0.025391,-0.025391)" d="M763 0H583V1147Q518 1085 412.5 1023Q307 961 223 930V1104Q374 1175 487 1276Q600 1377 647 1466H763Z" fill="#000"/>
<text transform="translate(442.22,163.60) scale(1,1.045)" class="s" font-size="52" fill="#000">3.4</text>
<circle cx="288.9" cy="148.1" r="6.7" fill="none" stroke="#000" stroke-width="2.2"/>
<circle cx="385.1" cy="119.1" r="6.7" fill="none" stroke="#000" stroke-width="2.2"/>
<circle cx="468.1" cy="32.6" r="6.7" fill="none" stroke="#000" stroke-width="2.2"/>
<circle cx="525.25" cy="136.75" r="6.7" fill="none" stroke="#000" stroke-width="2.2"/>
<text transform="translate(594.5,1227.3) scale(1.03,1.045)" class="s" font-size="64">2</text>
<text transform="translate(631.5,1227.1) scale(1.16,1)" class="r" font-size="65">θ</text>
<text x="682" y="1227.1" class="r" font-size="65">(°)</text>
</svg>
</body></html>
